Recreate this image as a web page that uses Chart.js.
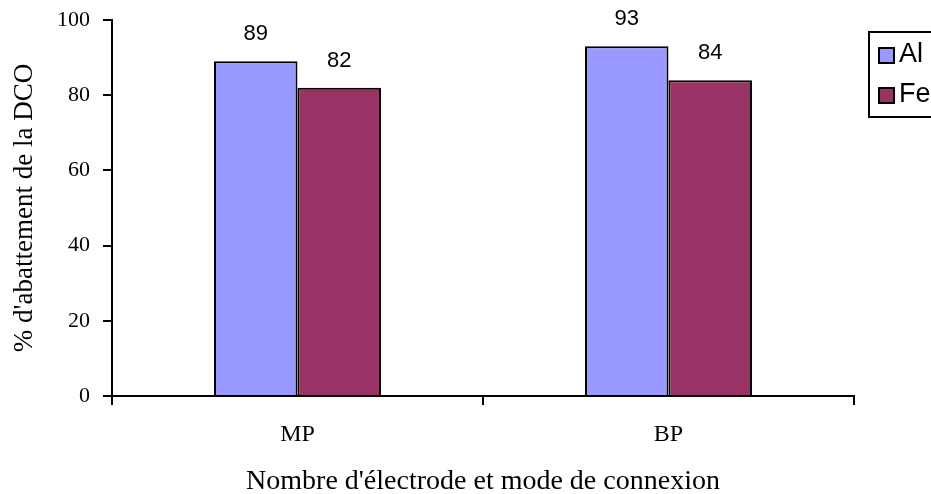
<!DOCTYPE html>
<html><head><meta charset="utf-8">
<script src="https://cdn.jsdelivr.net/npm/chart.js@4/dist/chart.umd.min.js"></script>
<style>html,body{margin:0;padding:0;background:#fff}#wrap{width:931px;height:494px}</style>
</head><body><div id="wrap"><canvas id="c" width="931" height="494"></canvas></div>
<script>
const categories = ["MP", "BP"];
const alValues = [89, 93];
const feValues = [82, 84];
const seriesNames = ["Al", "Fe"];
const yTicks = [0, 20, 40, 60, 80, 100];

const SERIF = '"Liberation Serif", "Times New Roman", serif';
const SANS = '"Liberation Sans", Arial, sans-serif';

const valueLabels = {
  id: 'valueLabels',
  afterDatasetsDraw(chart) {
    const ctx = chart.ctx;
    ctx.save();
    ctx.font = '22px ' + SANS;
    ctx.fillStyle = '#000';
    ctx.textAlign = 'center';
    ctx.textBaseline = 'middle';
    chart.data.datasets.forEach((ds, i) => {
      chart.getDatasetMeta(i).data.forEach((bar, j) => {
        ctx.fillText(String(ds.data[j]), bar.x, bar.y - 27);
      });
    });
    ctx.restore();
  }
};

const boxLegend = {
  id: 'boxLegend',
  afterDraw(chart) {
    const ctx = chart.ctx;
    ctx.save();
    const x = 869, y = 32, w = 80, h = 85;
    ctx.strokeStyle = '#000';
    ctx.lineWidth = 2;
    ctx.strokeRect(x, y, w, h);
    ctx.font = '27px ' + SANS;
    ctx.textBaseline = 'middle';
    ctx.textAlign = 'left';
    chart.data.datasets.forEach((ds, i) => {
      const sy = 48 + i * 40;
      ctx.fillStyle = ds.backgroundColor;
      ctx.fillRect(879, sy, 15, 15);
      ctx.lineWidth = 2;
      ctx.strokeStyle = '#000';
      ctx.strokeRect(879, sy, 15, 15);
      ctx.fillStyle = '#000';
      ctx.fillText(ds.label, 899, sy + 7);
    });
    ctx.restore();
  }
};

new Chart(document.getElementById('c'), {
  type: 'bar',
  data: {
    labels: categories,
    datasets: [
      { label: seriesNames[0], data: alValues, backgroundColor: '#9999FF', borderColor: '#000', borderWidth: 2, categoryPercentage: 0.45, barPercentage: 1.0 },
      { label: seriesNames[1], data: feValues, backgroundColor: '#993366', borderColor: '#000', borderWidth: 2, categoryPercentage: 0.45, barPercentage: 1.0 }
    ]
  },
  options: {
    responsive: false,
    animation: false,
    devicePixelRatio: 1,
    layout: { padding: { left: 0, right: 77, top: 20, bottom: 0 } },
    plugins: { legend: { display: false }, tooltip: { enabled: false } },
    scales: {
      x: {
        offset: true,
        grid: { offset: true, drawOnChartArea: false, color: '#000', lineWidth: 2, tickLength: 9, tickColor: '#000', tickWidth: 2 },
        border: { color: '#000', width: 2 },
        ticks: { color: '#000', padding: 15, font: { family: SERIF, size: 24 } },
        title: { display: true, text: "Nombre d'électrode et mode de connexion", color: '#000', padding: { top: 0, bottom: -2 }, font: { family: SERIF, size: 28, lineHeight: 1 } },
        afterFit(s) { s.height = 98; s.paddingLeft = 0; s.paddingRight = 0; }
      },
      y: {
        min: 0, max: 100,
        afterBuildTicks(s) { s.ticks = yTicks.map(v => ({ value: v })); },
        grid: { drawOnChartArea: false, color: '#000', lineWidth: 2, tickLength: 9, tickColor: '#000', tickWidth: 2 },
        border: { color: '#000', width: 2 },
        ticks: { color: '#000', padding: 13, font: { family: SERIF, size: 22 } },
        title: { display: true, text: "% d'abattement de la DCO", color: '#000', padding: { top: 11, bottom: 0 }, font: { family: SERIF, size: 27, lineHeight: 1 } },
        afterFit(s) { s.width = 112; s.paddingTop = 0; s.paddingBottom = 0; }
      }
    }
  },
  plugins: [valueLabels, boxLegend]
});
</script>
</body></html>
